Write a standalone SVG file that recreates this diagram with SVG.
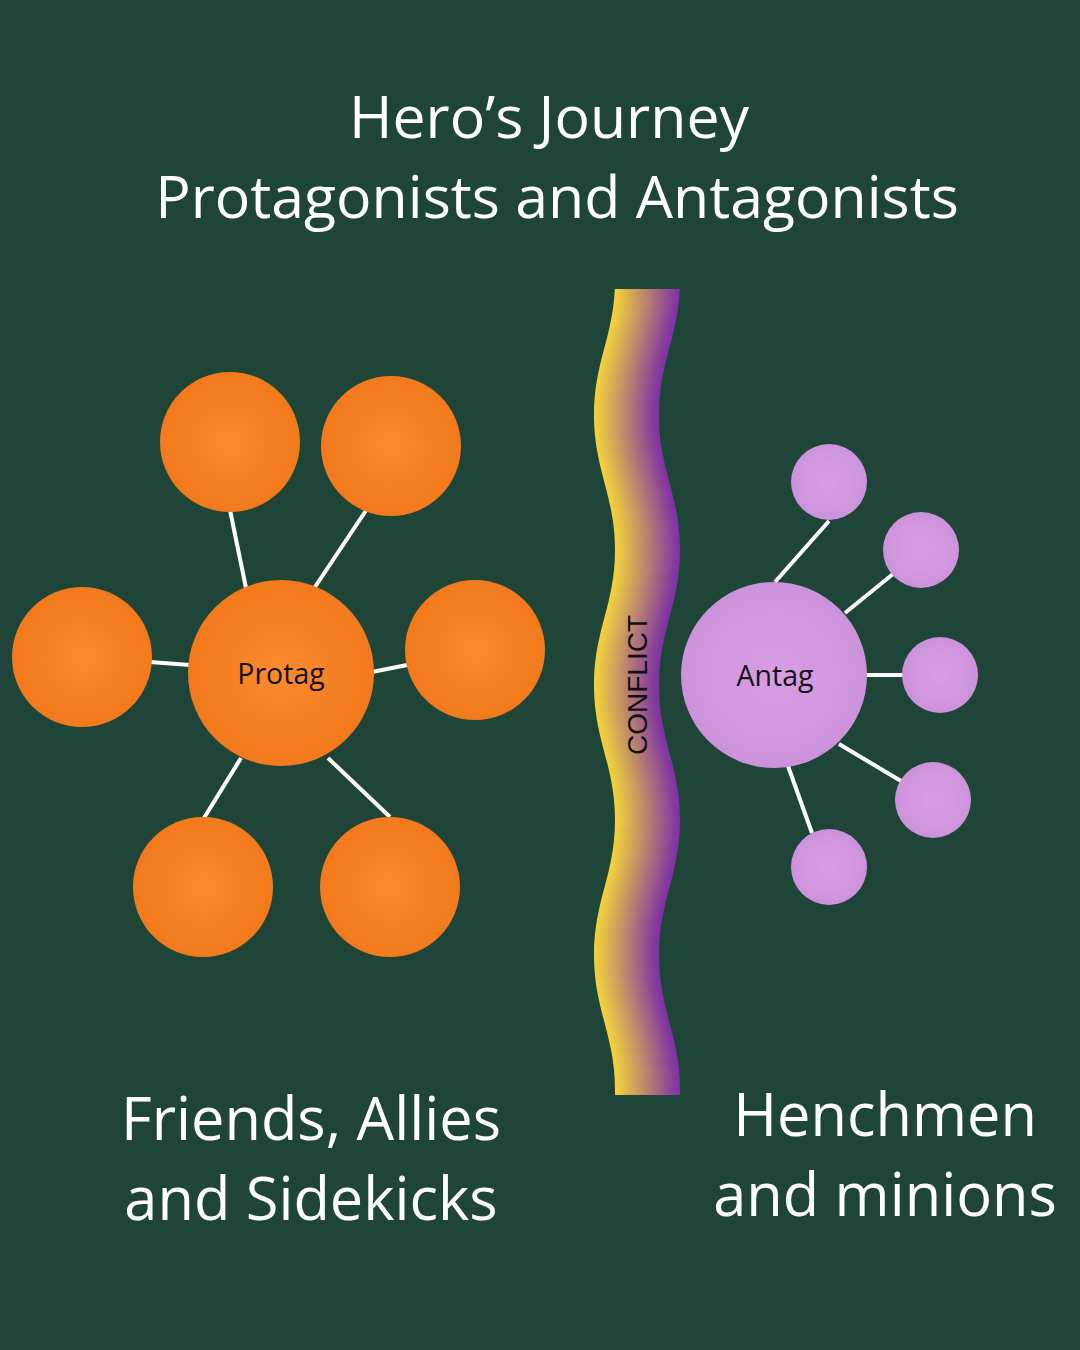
<svg xmlns="http://www.w3.org/2000/svg" width="1080" height="1350" viewBox="0 0 1080 1350">
<defs>
<style>
.title{font-family:"Open Sans","Noto Sans",sans-serif;font-size:59px;fill:#ffffff;text-anchor:middle}
.big{font-family:"Open Sans","Noto Sans",sans-serif;font-size:59.5px;fill:#ffffff;text-anchor:middle}
.lbl{font-family:"Open Sans","Noto Sans",sans-serif;font-size:28.5px;fill:#141414;text-anchor:middle}
.conf{font-family:"Liberation Sans",Arial,sans-serif;font-size:28px;fill:#111111;text-anchor:middle}
.edge{stroke:#ffffff;stroke-width:4;fill:none}
.strip{fill:none;stroke-width:5.6}
.or{fill:url(#gOr)}
.pu{fill:url(#gPu)}
</style>
<radialGradient id="gOr" cx="0.5" cy="0.5" r="0.5">
<stop offset="0" stop-color="#fb8a2e"/>
<stop offset="1" stop-color="#f27a1c"/>
</radialGradient>
<radialGradient id="gPu" cx="0.5" cy="0.5" r="0.5">
<stop offset="0" stop-color="#d89ee4"/>
<stop offset="1" stop-color="#cc93dc"/>
</radialGradient>
<path id="wave" d="M615,260 L615,280 C615,335 594,360 594,415 C594,470 615,495 615,550 C615,605 594,630 594,685 C594,740 615,765 615,820 C615,875 594,900 594,955 C594,1010 615,1035 615,1090 L615,1120"/>
<clipPath id="wallRect"><rect x="560" y="289" width="160" height="806"/></clipPath>
<clipPath id="wallShape"><path d="M615,260 L615,280 C615,335 594,360 594,415 C594,470 615,495 615,550 C615,605 594,630 594,685 C594,740 615,765 615,820 C615,875 594,900 594,955 C594,1010 615,1035 615,1090 L615,1120 L680,1120 L680,1090 C680,1035 659,1010 659,955 C659,900 680,875 680,820 C680,765 659,740 659,685 C659,630 680,605 680,550 C680,495 659,470 659,415 C659,360 680,335 680,280 L680,260 Z"/></clipPath>
<filter id="soft" x="-0.3" y="-0.05" width="1.6" height="1.1"><feGaussianBlur stdDeviation="3 0"/></filter>
</defs>
<rect width="1080" height="1350" fill="#1f4539"/>

<g id="title">
<text class="title" x="549" y="138">Hero’s Journey</text>
<text class="title" x="557" y="218">Protagonists and Antagonists</text>
</g>

<g id="conflict-wall" clip-path="url(#wallRect)">
<g clip-path="url(#wallShape)">
<g filter="url(#soft)">
<use href="#wave" class="strip" stroke="#f6d63a" transform="translate(-7.5,0)"/>
<use href="#wave" class="strip" stroke="#f6d63a" transform="translate(-2.5,0)"/>
<use href="#wave" class="strip" stroke="#f1cf3c" transform="translate(2.5,0)"/>
<use href="#wave" class="strip" stroke="#e8c345" transform="translate(7.5,0)"/>
<use href="#wave" class="strip" stroke="#deb64e" transform="translate(12.5,0)"/>
<use href="#wave" class="strip" stroke="#d5a956" transform="translate(17.5,0)"/>
<use href="#wave" class="strip" stroke="#cc9c5f" transform="translate(22.5,0)"/>
<use href="#wave" class="strip" stroke="#c28f67" transform="translate(27.5,0)"/>
<use href="#wave" class="strip" stroke="#b98270" transform="translate(32.5,0)"/>
<use href="#wave" class="strip" stroke="#b07579" transform="translate(37.5,0)"/>
<use href="#wave" class="strip" stroke="#a66881" transform="translate(42.5,0)"/>
<use href="#wave" class="strip" stroke="#9d5b8a" transform="translate(47.5,0)"/>
<use href="#wave" class="strip" stroke="#934e92" transform="translate(52.5,0)"/>
<use href="#wave" class="strip" stroke="#8a419b" transform="translate(57.5,0)"/>
<use href="#wave" class="strip" stroke="#8134a4" transform="translate(62.5,0)"/>
<use href="#wave" class="strip" stroke="#7c2ea8" transform="translate(67.5,0)"/>
<use href="#wave" class="strip" stroke="#7c2ea8" transform="translate(72.5,0)"/>
</g>
</g>
</g>
<text class="conf" transform="translate(647,685) rotate(-90)">CONFLICT</text>

<g id="connectors">
<line class="edge" x1="230" y1="510" x2="246" y2="588"/>
<line class="edge" x1="367" y1="509" x2="315" y2="587"/>
<line class="edge" x1="150" y1="662" x2="190" y2="665"/>
<line class="edge" x1="372" y1="672" x2="407" y2="665"/>
<line class="edge" x1="241" y1="758" x2="204" y2="818"/>
<line class="edge" x1="328" y1="758" x2="390" y2="817"/>
<line class="edge" x1="775" y1="582" x2="829" y2="521"/>
<line class="edge" x1="845" y1="613" x2="893" y2="574"/>
<line class="edge" x1="865" y1="675" x2="903" y2="675"/>
<line class="edge" x1="839" y1="744" x2="901" y2="781"/>
<line class="edge" x1="788" y1="766" x2="812" y2="833"/>
</g>

<g id="protag"><circle class="or" cx="281" cy="673" r="93"/><text class="lbl" x="281" y="684">Protag</text></g>
<g id="ally-1"><circle class="or" cx="230" cy="442" r="70"/></g>
<g id="ally-2"><circle class="or" cx="391" cy="446" r="70"/></g>
<g id="ally-3"><circle class="or" cx="82" cy="657" r="70"/></g>
<g id="ally-4"><circle class="or" cx="475" cy="650" r="70"/></g>
<g id="ally-5"><circle class="or" cx="203" cy="887" r="70"/></g>
<g id="ally-6"><circle class="or" cx="390" cy="887" r="70"/></g>

<g id="antag"><circle class="pu" cx="774" cy="675" r="93"/><text class="lbl" x="775" y="686">Antag</text></g>
<g id="minion-1"><circle class="pu" cx="829" cy="482" r="38"/></g>
<g id="minion-2"><circle class="pu" cx="921" cy="550" r="38"/></g>
<g id="minion-3"><circle class="pu" cx="940" cy="675" r="38"/></g>
<g id="minion-4"><circle class="pu" cx="933" cy="800" r="38"/></g>
<g id="minion-5"><circle class="pu" cx="829" cy="867" r="38"/></g>

<g id="labels">
<text class="big" x="311" y="1140">Friends, Allies</text>
<text class="big" x="311" y="1220">and Sidekicks</text>
<text class="big" x="885" y="1136">Henchmen</text>
<text class="big" x="885" y="1216">and minions</text>
</g>
</svg>
